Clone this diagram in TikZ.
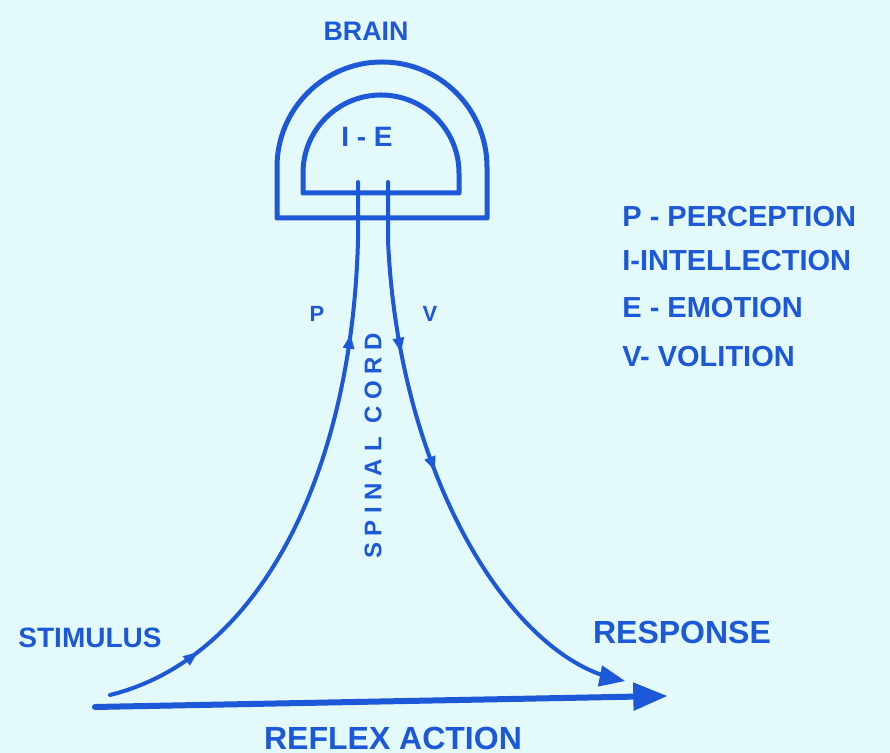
\documentclass[tikz,border=0pt]{standalone}
\usepackage{fontspec}
\setmainfont{Liberation Sans}
\usetikzlibrary{arrows}
\usetikzlibrary{decorations.markings}
\definecolor{ink}{RGB}{28,88,215}
\definecolor{paper}{RGB}{228,250,250}

\begin{document}
\begin{tikzpicture}[line cap=round,line join=round,>=triangle 45,x=0.5pt,y=0.5pt,
    nerve/.style={draw=ink, line width=2pt},
    lbl/.style={text=ink, inner sep=0pt, font=\bfseries\fontsize{14.5}{16}\selectfont},
    flowmarks/.style 2 args={postaction={decorate}, decoration={markings,
        mark=at position #1 with {\arrow[scale=0.55]{triangle 45}},
        mark=at position #2 with {\arrow[scale=0.55]{triangle 45}}}}]
                    \fill [paper] (0,0) rectangle (890,753);

                    % brain
                    \draw [nerve, line width=2.5pt] (277,535) -- (277,586) arc[start angle=180, end angle=0, radius=105] -- (487,535) -- cycle;
                    \draw [nerve, line width=2.5pt] (303,560) -- (303,580) arc[start angle=180, end angle=0, radius=78] -- (459,560) -- cycle;

                    \coordinate (ptop) at (358,571);
                    \coordinate (pneck) at (358,513);
                    \coordinate (vtop) at (388,571);
                    \coordinate (vneck) at (388,513);
                    \coordinate (stim) at (110,58);
                    \coordinate (resp) at (625,72);
                    \coordinate (arcstart) at (95,46);
                    \coordinate (arcend) at (667,57);

                    % spinal cord pathways
                    \draw [nerve, flowmarks={0.16}{0.75}] (stim) .. controls (260,95) and (352,280) .. (pneck) -- (ptop);
                    \draw [nerve, ->, flowmarks={0.29}{0.50}] (vtop) -- (vneck) .. controls (398,280) and (510,95) .. (resp);
                    \draw [nerve, line width=3pt, ->] (arcstart) -- (arcend);

                    \node [lbl, font=\bfseries\fontsize{13.4}{15}\selectfont] (brain) at (366,722) {BRAIN};
                    \node [lbl, font=\bfseries\fontsize{14}{16}\selectfont] (ie) at (367,616) {I - E};
                    \node [lbl, font=\bfseries\fontsize{11}{12}\selectfont] (p) at (317,439) {P};
                    \node [lbl, font=\bfseries\fontsize{11}{12}\selectfont] (v) at (430,439) {V};
                    \node [lbl, rotate=90, font=\bfseries\fontsize{12}{14}\selectfont\addfontfeature{LetterSpace=28}] (cord) at (373,307) {SPINAL CORD};

                    \node [lbl, anchor=west] (perc) at (622,536) {P - PERCEPTION};
                    \node [lbl, anchor=west] (intel) at (622,492) {I-INTELLECTION};
                    \node [lbl, anchor=west] (emo) at (622,445) {E - EMOTION};
                    \node [lbl, anchor=west] (vol) at (622,396) {V- VOLITION};

                    \node [lbl, font=\bfseries\fontsize{14}{16}\selectfont] (stimulus) at (90,115) {STIMULUS};
                    \node [lbl, font=\bfseries\fontsize{16}{18}\selectfont] (response) at (682,121) {RESPONSE};
                    \node [lbl, font=\bfseries\fontsize{16}{18}\selectfont] (reflex) at (393,15) {REFLEX ACTION};
                \end{tikzpicture}
\end{document}
